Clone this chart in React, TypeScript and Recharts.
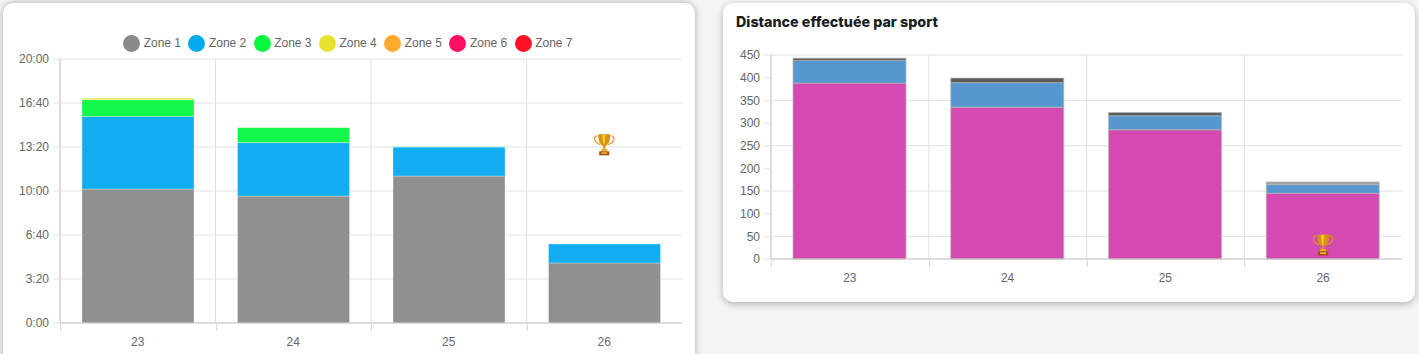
import { BarChart, Bar, XAxis, YAxis, CartesianGrid, Legend, ReferenceDot } from "recharts";

const WEEKS = ["23", "24", "25", "26"];

// left chart, values in units where 200 = one tick of 3:20
const ZONE_NAMES = ["Zone 1", "Zone 2", "Zone 3", "Zone 4", "Zone 5", "Zone 6", "Zone 7"];
const ZONE_COLORS = ["#8a8a8a", "#05a9ef", "#05f840", "#e8e22c", "#ffaa2c", "#ff0e62", "#ff1226"];
const ZONE_1 = [609, 577, 668, 273];
const ZONE_2 = [330, 243, 132, 86];
const ZONE_3 = [76, 69, 1, 0];
const ZONE_4 = [7, 1, 0, 0];
const ZONE_5 = [0, 0, 0, 0];
const ZONE_6 = [0, 0, 0, 0];
const ZONE_7 = [0, 0, 0, 0];
const ZONE_VALUES = [ZONE_1, ZONE_2, ZONE_3, ZONE_4, ZONE_5, ZONE_6, ZONE_7];
const TIME_TICKS = [0, 200, 400, 600, 800, 1000, 1200];
const TIME_LABELS = ["0:00", "3:20", "6:40", "10:00", "13:20", "16:40", "20:00"];

// right chart
const SPORT_NAMES = ["Vélo", "Course", "Natation", "Marche"];
const SPORT_COLORS = ["#d44ab0", "#5797d0", "#5c5c5c", "#a0a0a0"];
const VELO = [388, 335, 285, 145];
const COURSE = [50, 54, 31, 19];
const NATATION = [5, 10, 7, 0];
const MARCHE = [0, 0, 0, 6];
const SPORT_VALUES = [VELO, COURSE, NATATION, MARCHE];
const DISTANCE_TICKS = [0, 50, 100, 150, 200, 250, 300, 350, 400, 450];

const zoneData = WEEKS.map((week, w) => {
  const row: Record<string, string | number> = { week };
  ZONE_NAMES.forEach((z, i) => (row[z] = ZONE_VALUES[i][w]));
  return row;
});

const sportData = WEEKS.map((week, w) => {
  const row: Record<string, string | number> = { week };
  SPORT_NAMES.forEach((s, i) => (row[s] = SPORT_VALUES[i][w]));
  return row;
});

const FONT = '"Liberation Sans", Arial, sans-serif';
const TICK_COLOR = "#666";
const GRID = "#e0e0e0";
const AXIS = "#cacaca";

const cardStyle = {
  position: "absolute",
  background: "#fff",
  borderRadius: 10,
  boxShadow: "0 2px 7px rgba(0,0,0,0.28)",
} as const;

function WeekTick({ x, y, payload, width, visibleTicksCount }: any) {
  const band = width / visibleTicksCount;
  const left = Math.round(x - band / 2) + 0.5;
  return (
    <g>
      <line x1={left} x2={left} y1={y - 8} y2={y} stroke="#dcdcdc" />
      <text x={x} y={y + 15} textAnchor="middle" fontSize={12} fontFamily={FONT} fill={TICK_COLOR}>
        {payload.value}
      </text>
    </g>
  );
}

function Trophy({ cx, cy }: any) {
  return (
    <g transform={`translate(${cx - 11},${cy - 11})`}>
      <path d="M4 2 C0 2 0 8 7 11 M18 2 C22 2 22 8 15 11" fill="none" stroke="#d99a12" strokeWidth={1.2} />
      <path d="M5 0.5 H17 C17 8 15 11 12 12.5 V15 H10 V12.5 C7 11 5 8 5 0.5 Z" fill="#d8930c" />
      <path d="M9 1 H12 C12 6 11.5 10 11 12 C10 10 9 6 9 1 Z" fill="#f7c63c" />
      <rect x={8} y={15} width={6} height={2.5} fill="#e8ac20" />
      <rect x={6} y={17.5} width={10} height={4} fill="#a8480c" />
      <rect x={8} y={18.5} width={6} height={1.5} fill="#f0c040" />
    </g>
  );
}

function ZoneLegend({ payload }: any) {
  return (
    <div style={{ display: "flex", justifyContent: "center", fontFamily: FONT, fontSize: 12, color: TICK_COLOR, paddingLeft: 8 }}>
      {payload.map((p: any) => (
        <div key={p.value} style={{ display: "flex", alignItems: "center", marginRight: 7.4, height: 18 }}>
          <span style={{ width: 17, height: 17, borderRadius: "50%", background: p.color, marginRight: 3.5 }} />
          {p.value}
        </div>
      ))}
    </div>
  );
}

const gridColumns = ({ offset }: any) => WEEKS.map((_, i) => offset.left + (i * offset.width) / WEEKS.length);

export default function App() {
  return (
    <div style={{ position: "fixed", left: 0, top: 0, width: 1419, height: 354, overflow: "hidden", background: "#f4f4f4" }}>
      <div style={{ ...cardStyle, left: 3, top: 3, width: 692, height: 380, boxShadow: "0 0 7px rgba(0,0,0,0.3)" }} />
      <div style={{ ...cardStyle, left: 723, top: 3, width: 692, height: 299 }} />

      <div style={{ position: "absolute", left: 0, top: 0 }}>
        <BarChart width={695} height={354} data={zoneData} margin={{ top: 34, right: 13, bottom: 0, left: 0 }} barSize={112}>
          <CartesianGrid stroke={GRID} verticalCoordinatesGenerator={gridColumns} />
          <XAxis dataKey="week" height={31} stroke={AXIS} tickLine={false} tick={<WeekTick />} interval={0} />
          <YAxis
            width={60}
            domain={[0, 1200]}
            ticks={TIME_TICKS}
            tickFormatter={(v: number) => TIME_LABELS[TIME_TICKS.indexOf(v)]}
            stroke={AXIS}
            tickLine={{ stroke: GRID }}
            tickSize={7}
            tickMargin={4}
            tick={{ fontSize: 12, fontFamily: FONT, fill: TICK_COLOR }}
          />
          <Legend verticalAlign="top" height={25} content={<ZoneLegend />} wrapperStyle={{ top: 34, left: 0, width: 695 }} />
          {ZONE_NAMES.map((z, i) => (
            <Bar key={z} dataKey={z} stackId="zones" fill={ZONE_COLORS[i]} fillOpacity={0.95} stroke="#fff" strokeOpacity={0.3} isAnimationActive={false} />
          ))}
          <ReferenceDot x="26" y={810} r={11} shape={<Trophy />} />
        </BarChart>
      </div>

      <div style={{ position: "absolute", left: 736, top: 13, fontFamily: '"Inter", sans-serif', fontWeight: 800, fontSize: 14.3, color: "#1d1d1d", whiteSpace: "nowrap" }}>
        Distance effectuée par sport
      </div>

      <div style={{ position: "absolute", left: 723, top: 0 }}>
        <BarChart width={692} height={303} data={sportData} margin={{ top: 55, right: 13, bottom: 0, left: 0 }} barSize={113}>
          <CartesianGrid stroke={GRID} verticalCoordinatesGenerator={gridColumns} />
          <XAxis dataKey="week" height={44} stroke={AXIS} tickLine={false} tick={<WeekTick />} interval={0} />
          <YAxis
            width={48}
            domain={[0, 450]}
            ticks={DISTANCE_TICKS}
            stroke={AXIS}
            tickLine={{ stroke: GRID }}
            tickSize={7}
            tickMargin={4}
            tick={{ fontSize: 12, fontFamily: FONT, fill: TICK_COLOR }}
          />
          {SPORT_NAMES.map((s, i) => (
            <Bar key={s} dataKey={s} stackId="sports" fill={SPORT_COLORS[i]} stroke="#b4b4b4" strokeOpacity={0.7} isAnimationActive={false} />
          ))}
          <ReferenceDot x="26" y={31} r={11} shape={<Trophy />} />
        </BarChart>
      </div>
    </div>
  );
}
